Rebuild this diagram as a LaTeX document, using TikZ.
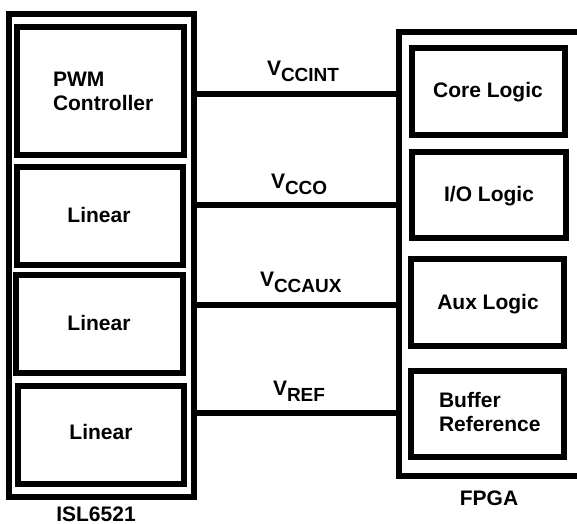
\documentclass[tikz,border=0pt]{standalone}
\usepackage{fontspec}
\setmainfont{Liberation Sans}
\newcommand{\vlabel}[1]{V\raisebox{-6pt}{\fontsize{19}{19}\selectfont #1}}
\tikzset{
  x=1pt,y=-1pt,
  blk/.style={draw=black,line width=6pt,rectangle,inner sep=0pt,outer sep=0pt,fill=none},
  openblk/.style={rectangle,inner sep=0pt,outer sep=0pt},
  wire/.style={draw=black,line width=6pt},
  lbl/.style={inner sep=0pt,outer sep=0pt,anchor=base west,font=\fontsize{21}{24}\selectfont\bfseries,text=black},
  clbl/.style={lbl,anchor=base},
}
\begin{document}
\begin{tikzpicture}
\useasboundingbox (0,0) rectangle (577,523);
% ISL6521 side
\node[blk,minimum width=185,minimum height=483] (isl) at (101.5,255.5) {};
\node[blk,minimum width=167,minimum height=128] (pwm) at (100.5,91) {};
\node[blk,minimum width=166,minimum height=98] (lin1) at (100,216) {};
\node[blk,minimum width=167,minimum height=98] (lin2) at (99.5,324) {};
\node[blk,minimum width=166,minimum height=98] (lin3) at (101,435) {};
% FPGA side (open to the right)
\node[openblk,minimum width=178,minimum height=444] (fpga) at (488,254) {};
\draw[line width=6pt,line join=miter] (fpga.north east) -- (fpga.north west) -- (fpga.south west) -- (fpga.south east);
\node[blk,minimum width=153,minimum height=87] (core) at (488.5,91.5) {};
\node[blk,minimum width=154,minimum height=86] (io) at (489,195) {};
\node[blk,minimum width=153,minimum height=87] (aux) at (487.5,302.5) {};
\node[blk,minimum width=153,minimum height=86] (buf) at (487.5,414) {};
% connectors
\coordinate (c1) at (300,94);
\coordinate (c2) at (300,205);
\coordinate (c3) at (300,305);
\coordinate (c4) at (300,413);
\draw[wire] (isl.east |- c1) -- (fpga.west |- c1);
\draw[wire] (isl.east |- c2) -- (fpga.west |- c2);
\draw[wire] (isl.east |- c3) -- (fpga.west |- c3);
\draw[wire] (isl.east |- c4) -- (fpga.west |- c4);
% texts
\node[lbl] (tpwm) at (53,86) {PWM};
\node[lbl] (tctl) at (53,110) {Controller};
\node[clbl] (tl1) at (99,222.7) {Linear};
\node[clbl] (tl2) at (99,330.7) {Linear};
\node[clbl] (tl3) at (101,439) {Linear};
\node[clbl] (tisl) at (96,521) {ISL6521};
\node[clbl] (tcore) at (488,97) {Core Logic};
\node[clbl] (tio) at (489,201) {I/O Logic};
\node[clbl] (taux) at (488,309) {Aux Logic};
\node[lbl] (tb1) at (439,407) {Buffer};
\node[lbl] (tb2) at (439,431) {Reference};
\node[clbl] (tfpga) at (489,505) {FPGA};
\node[lbl] (v1) at (267,75) {\vlabel{CCINT}};
\node[lbl] (v2) at (271,188) {\vlabel{CCO}};
\node[lbl] (v3) at (260,286) {\vlabel{CCAUX}};
\node[lbl] (v4) at (273,395) {\vlabel{REF}};
\end{tikzpicture}
\end{document}
